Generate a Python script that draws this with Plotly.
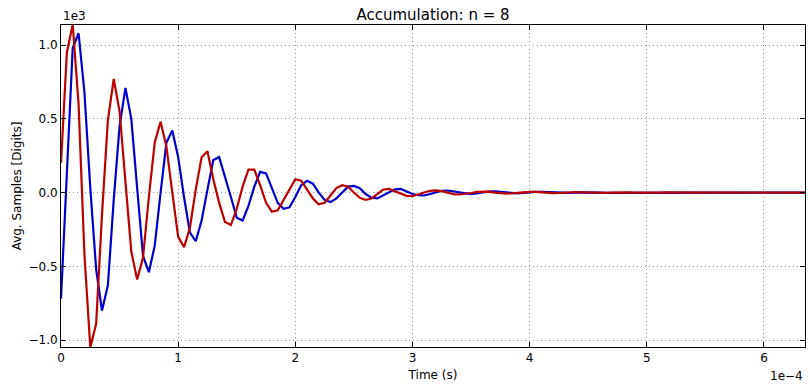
import plotly.graph_objects as go

dt = 5e-6
red_vals = [
    200, 950, 1140, 600, -420, -1050, -890, -150, 490, 770,
    550, 50, -400, -590, -440, -30, 340, 480, 310, 0,
    -300, -370, -240, 20, 240, 280, 90, -70, -200, -220,
    -110, 40, 155, 155, 50, -70, -130, -120, -50, 30,
    90, 80, 20, -40, -80, -70, -20, 30, 50, 40,
    0, -35, -50, -40, -10, 20, 25, 10, -10, -22,
    -25, -15, 0, 12, 15, 10, 0, -10, -13, -10,
    -3, 5, 8, 6, 0, -5, -7, -5, 0, 4,
    5, 4, 0, -3, -4, -3, 0, 3, 3, 2,
    0, -2, -3, -2, 0, 2, 2, 1, 0, -1,
    -2, -1, 0, 1, 1, 1, 0, -1, -1, -1,
    0, 1, 1, 0, 0, -1, -1, 0, 0, 1,
    1, 0, 0, -1, 0, 0, 0, 0,
]
blue_vals = [
    -720, 150, 980, 1080, 680, 30, -520, -800, -630, -50,
    450, 710, 500, 30, -430, -540, -360, 0, 340, 420,
    240, -30, -270, -330, -190, 20, 220, 240, 110, -30,
    -170, -190, -90, 40, 140, 130, 30, -70, -110, -100,
    -30, 50, 80, 60, 0, -50, -65, -40, 0, 40,
    45, 30, -10, -35, -40, -20, 5, 22, 25, 10,
    -10, -18, -20, -10, 3, 12, 14, 8, -2, -9,
    -10, -6, 2, 7, 8, 4, -2, -5, -5, -2,
    2, 4, 4, 2, -1, -3, -3, -2, 1, 2,
    3, 2, 0, -2, -2, -1, 0, 1, 2, 1,
    0, -1, -1, -1, 0, 1, 1, 1, 0, -1,
    -1, 0, 0, 1, 1, 0, 0, -1, 0, 0,
    1, 0, 0, 0, 0, 0, 0, 0,
]
times = [i * dt for i in range(len(red_vals))]

x_ticks = [0, 1e-4, 2e-4, 3e-4, 4e-4, 5e-4, 6e-4]
x_tick_text = ["0", "1", "2", "3", "4", "5", "6"]
y_ticks = [-1000, -500, 0, 500, 1000]
y_tick_text = ["\u22121.0", "\u22120.5", "0.0", "0.5", "1.0"]

fig = go.Figure()
fig.add_trace(go.Scatter(x=times, y=blue_vals, mode="lines",
                         line=dict(color="#0000cc", width=2.2), showlegend=False))
fig.add_trace(go.Scatter(x=times, y=red_vals, mode="lines",
                         line=dict(color="#bb0000", width=2.2), showlegend=False))

axis_common = dict(
    showline=True, linecolor="black", linewidth=1, mirror="allticks",
    ticks="inside", ticklen=5, tickcolor="black",
    showgrid=True, gridcolor="#999999", griddash="1px,3px", gridwidth=1,
    zeroline=False, tickfont=dict(size=12, color="black"),
)
fig.update_xaxes(range=[0, 6.35e-4], tickvals=x_ticks, ticktext=x_tick_text,
                 title=dict(text="Time (s)", font=dict(size=12, color="black"), standoff=6),
                 **axis_common)
fig.update_yaxes(range=[-1047, 1136], tickvals=y_ticks, ticktext=y_tick_text,
                 title=dict(text="Avg. Samples [Digits]", font=dict(size=12, color="black"), standoff=4),
                 **axis_common)

fig.update_layout(
    width=810, height=390,
    margin=dict(l=61, r=5, t=25, b=43),
    paper_bgcolor="white", plot_bgcolor="white",
    font=dict(family="DejaVu Sans", size=12, color="black"),
    title=dict(text="Accumulation: n = 8", x=0.5, xref="paper", xanchor="center",
               y=0.963, yanchor="middle", font=dict(size=15, color="black")),
    annotations=[
        dict(text="1e3", xref="paper", yref="paper", x=0, y=1, xanchor="left", yanchor="bottom",
             showarrow=False, font=dict(size=12, color="black"), yshift=0),
        dict(text="1e\u22124", xref="paper", yref="paper", x=1, y=0, xanchor="right", yanchor="top",
             showarrow=False, font=dict(size=12, color="black"), yshift=-20),
    ],
)

fig.write_html("out.html")
